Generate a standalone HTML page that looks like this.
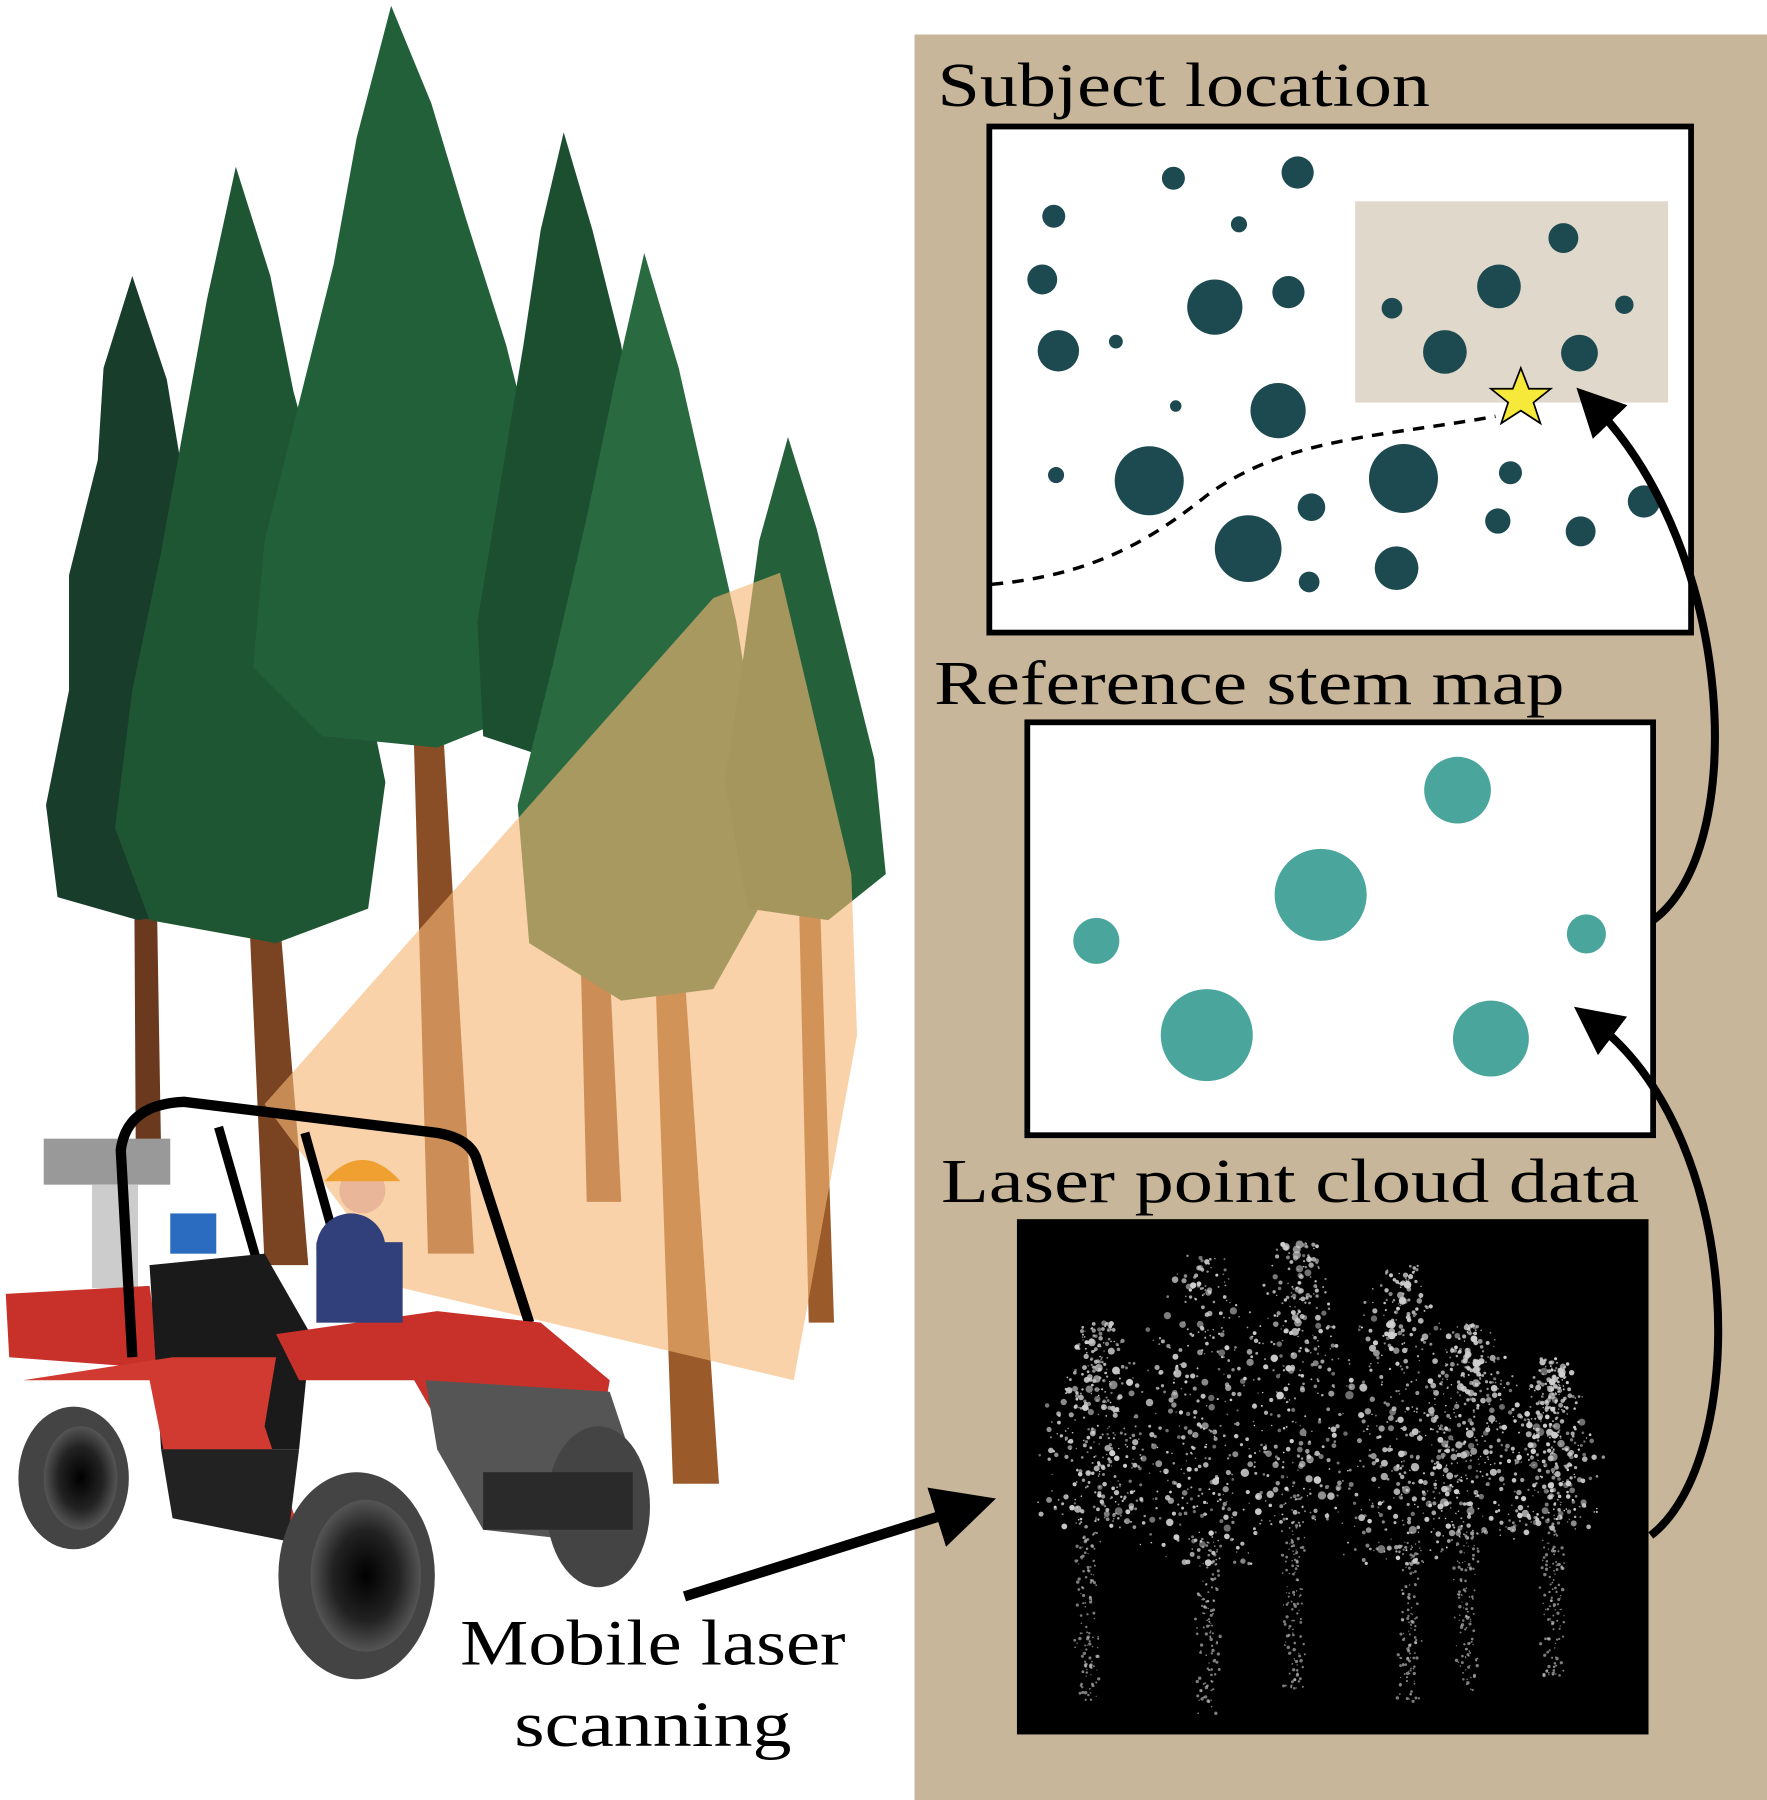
<!DOCTYPE html>
<html><head><meta charset="utf-8"><style>
html,body{margin:0;padding:0;background:#fff;width:1767px;height:1800px;overflow:hidden}
svg{display:block}
text{font-family:"Liberation Serif",serif;fill:#000}
</style></head><body>
<svg id="s" width="1767" height="1800" viewBox="0 0 1536 1565" preserveAspectRatio="none" xmlns="http://www.w3.org/2000/svg">
<defs>
<marker id="ah" markerWidth="6" markerHeight="6" refX="3" refY="3" orient="auto" markerUnits="strokeWidth"><path d="M0,0 L6,3 L0,6 Z" fill="#000"/></marker>
<radialGradient id="wh"><stop offset="0" stop-color="#000"/><stop offset="0.6" stop-color="#222"/><stop offset="1" stop-color="#555"/></radialGradient>
</defs>
<rect width="1536" height="1565" fill="#fff"/>
<g>
<polygon points="116,640 134,640 140,1000 118,1000" fill="#6b3a1e"/>
<polygon points="215,760 240,760 268,1100 230,1100" fill="#7a4422"/>
<polygon points="358,580 382,580 412,1090 372,1090" fill="#8a4e26"/>
<polygon points="500,640 520,640 540,1045 510,1045" fill="#8a4e26"/>
<polygon points="568,800 592,800 625,1290 585,1290" fill="#9a5a2a"/>
<polygon points="694,760 712,760 725,1150 703,1150" fill="#9a5a2a"/>
</g>
<g>
<polygon points="115,240 145,330 160,420 185,520 205,620 215,720 190,790 120,800 50,780 40,700 60,600 60,500 85,400 90,320" fill="#183d2a"/>
<polygon points="205,145 235,240 255,340 285,450 310,560 335,680 320,790 240,820 130,800 100,720 115,600 140,480 160,370 180,260" fill="#1e5532"/>
<polygon points="340,5 375,90 405,190 440,300 470,420 475,520 455,620 380,650 280,640 220,580 230,470 260,350 290,230 310,120" fill="#22603a"/>
<polygon points="490,115 515,200 540,300 555,400 560,520 530,640 480,660 420,640 415,540 435,420 455,300 470,200" fill="#1c4f30"/>
<polygon points="560,220 590,320 615,430 640,540 660,660 665,780 620,860 540,870 460,820 450,700 480,580 510,450 535,330" fill="#2a6a40"/>
<polygon points="685,380 710,460 735,560 760,660 770,760 720,800 650,790 630,680 645,580 660,470" fill="#24613b"/>
</g>
<polygon points="230,960 620,520 678,498 740,760 745,900 690,1200 350,1120" fill="#f5b774" opacity="0.62"/>
<g>
<rect x="38" y="990" width="110" height="40" fill="#999"/>
<rect x="80" y="1030" width="40" height="90" fill="#ccc"/>
<rect x="148" y="1055" width="40" height="35" fill="#2c6cc0"/>
<polygon points="5,1125 130,1118 140,1190 8,1180" fill="#c8302a"/>
<path d="M115,1180 L105,1000 Q110,960 160,958 L380,985 Q410,990 415,1010 L460,1150" fill="none" stroke="#000" stroke-width="9"/>
<path d="M190,980 L230,1120 M265,985 L300,1110" stroke="#000" stroke-width="8" fill="none"/>
<polygon points="130,1100 230,1090 270,1160 260,1260 140,1260" fill="#1a1a1a"/>
<polygon points="240,1160 380,1140 470,1150 530,1200 520,1260 400,1270 360,1200 260,1200" fill="#c8302a"/>
<polygon points="370,1200 530,1210 560,1300 510,1340 420,1330 380,1260" fill="#555"/>
<polygon points="20,1200 130,1200 150,1300 260,1330 230,1240 240,1180 150,1180" fill="#d03a30"/>
<polygon points="140,1260 260,1260 250,1340 150,1320" fill="#222"/>
<circle cx="305" cy="1085" r="30" fill="#31407a"/>
<rect x="275" y="1080" width="75" height="70" fill="#31407a"/>
<circle cx="315" cy="1035" r="20" fill="#eab69a"/>
<path d="M282,1027 Q315,990 348,1027 Z" fill="#f0a030"/>
<ellipse cx="64" cy="1285" rx="48" ry="62" fill="#444"/>
<ellipse cx="70" cy="1285" rx="32" ry="45" fill="url(#wh)"/>
<ellipse cx="310" cy="1370" rx="68" ry="90" fill="#444"/>
<ellipse cx="318" cy="1370" rx="48" ry="66" fill="url(#wh)"/>
<ellipse cx="520" cy="1310" rx="45" ry="70" fill="#444"/>
<rect x="420" y="1280" width="130" height="50" fill="#2a2a2a"/>
</g>
<rect x="795" y="30" width="741" height="1535" fill="#c7b699"/>
<text x="815" y="92" font-size="54" textLength="428" lengthAdjust="spacingAndGlyphs">Subject location</text>
<rect x="860" y="110" width="610" height="440" fill="#fff" stroke="#000" stroke-width="5"/>
<rect x="1178" y="175" width="272" height="175" fill="#e0d9cb"/>
<g fill="#1d4a50" id="dd"></g>
<path d="M862,508 C950,500 1000,470 1050,430 C1120,380 1200,380 1300,362" fill="none" stroke="#000" stroke-width="3" stroke-dasharray="10,8"/>
<polygon points="1322,320 1329,338 1348,338 1333,350 1339,368 1322,357 1305,368 1311,350 1296,338 1315,338" fill="#f7e93a" stroke="#000" stroke-width="1.5"/>
<text x="812" y="612" font-size="54" textLength="548" lengthAdjust="spacingAndGlyphs">Reference stem map</text>
<rect x="893" y="628" width="544" height="359" fill="#fff" stroke="#000" stroke-width="5"/>
<g fill="#4aa69c">
<circle cx="1267" cy="687" r="29"/><circle cx="1148" cy="778" r="40"/><circle cx="953" cy="818" r="20"/>
<circle cx="1379" cy="812" r="17"/><circle cx="1049" cy="900" r="40"/><circle cx="1296" cy="903" r="33"/>
</g>
<text x="818" y="1045" font-size="54" textLength="607" lengthAdjust="spacingAndGlyphs">Laser point cloud data</text>
<rect x="884" y="1060" width="549" height="448" fill="#000"/>
<g id="pc" fill="#cfcfcf"></g>
<path d="M1437,800 C1520,740 1510,480 1385,352" fill="none" stroke="#000" stroke-width="7" marker-end="url(#ah)"/>
<path d="M1435,1335 C1520,1270 1520,990 1385,888" fill="none" stroke="#000" stroke-width="7" marker-end="url(#ah)"/>
<line x1="595" y1="1388" x2="840" y2="1311" stroke="#000" stroke-width="9" marker-end="url(#ah)"/>
<text x="400" y="1447" font-size="56" textLength="335" lengthAdjust="spacingAndGlyphs">Mobile laser</text>
<text x="447" y="1518" font-size="56" textLength="241" lengthAdjust="spacingAndGlyphs">scanning</text>
</svg>
<script>
var NS="http://www.w3.org/2000/svg";
var d=[[1020,155,10],[1128,150,14],[916,188,10],[1077,195,7],[906,243,13],[1056,267,24],[1120,254,14],[970,297,6],[920,305,18],[1022,353,5],[1111,357,24],[918,413,7],[999,418,30],[1220,416,30],[1140,441,12],[1313,411,10],[1429,436,14],[1302,453,11],[1374,462,13],[1085,477,29],[1214,494,19],[1138,506,9],[1359,207,13],[1303,249,19],[1210,268,9],[1412,265,8],[1256,306,19],[1373,307,16]];
var g=document.getElementById("dd");
d.forEach(function(c){var e=document.createElementNS(NS,"circle");e.setAttribute("cx",c[0]);e.setAttribute("cy",c[1]);e.setAttribute("r",c[2]);g.appendChild(e);});
var s=12345;function r(){s=(s*16807)%2147483647;return s/2147483647;}
var p=document.getElementById("pc");
var trees=[[955,1150,1330,55],[1045,1090,1360,65],[1130,1080,1330,60],[1220,1100,1360,60],[1280,1150,1340,55],[1350,1180,1330,45]];
var trunks=[[945,1330,1480],[1050,1340,1490],[1125,1320,1470],[1225,1340,1480],[1275,1330,1470],[1350,1320,1460]];
trees.forEach(function(t){for(var i=0;i<380;i++){var y=t[1]+r()*(t[2]-t[1]);var w=t[3]*Math.min(1,(y-t[1])/120+0.3);var x=t[0]+(r()+r()-1)*w;var e=document.createElementNS(NS,"circle");e.setAttribute("cx",x);e.setAttribute("cy",y);e.setAttribute("r",0.6+r()*r()*3.2);e.setAttribute("opacity",0.5+r()*0.5);p.appendChild(e);}});
trunks.forEach(function(t){for(var i=0;i<120;i++){var y=t[1]+r()*(t[2]-t[1]);var x=t[0]+(r()+r()-1)*12;var e=document.createElementNS(NS,"circle");e.setAttribute("cx",x);e.setAttribute("cy",y);e.setAttribute("r",0.5+r()*1);e.setAttribute("opacity",0.6);p.appendChild(e);}});
</script>
</body></html>
